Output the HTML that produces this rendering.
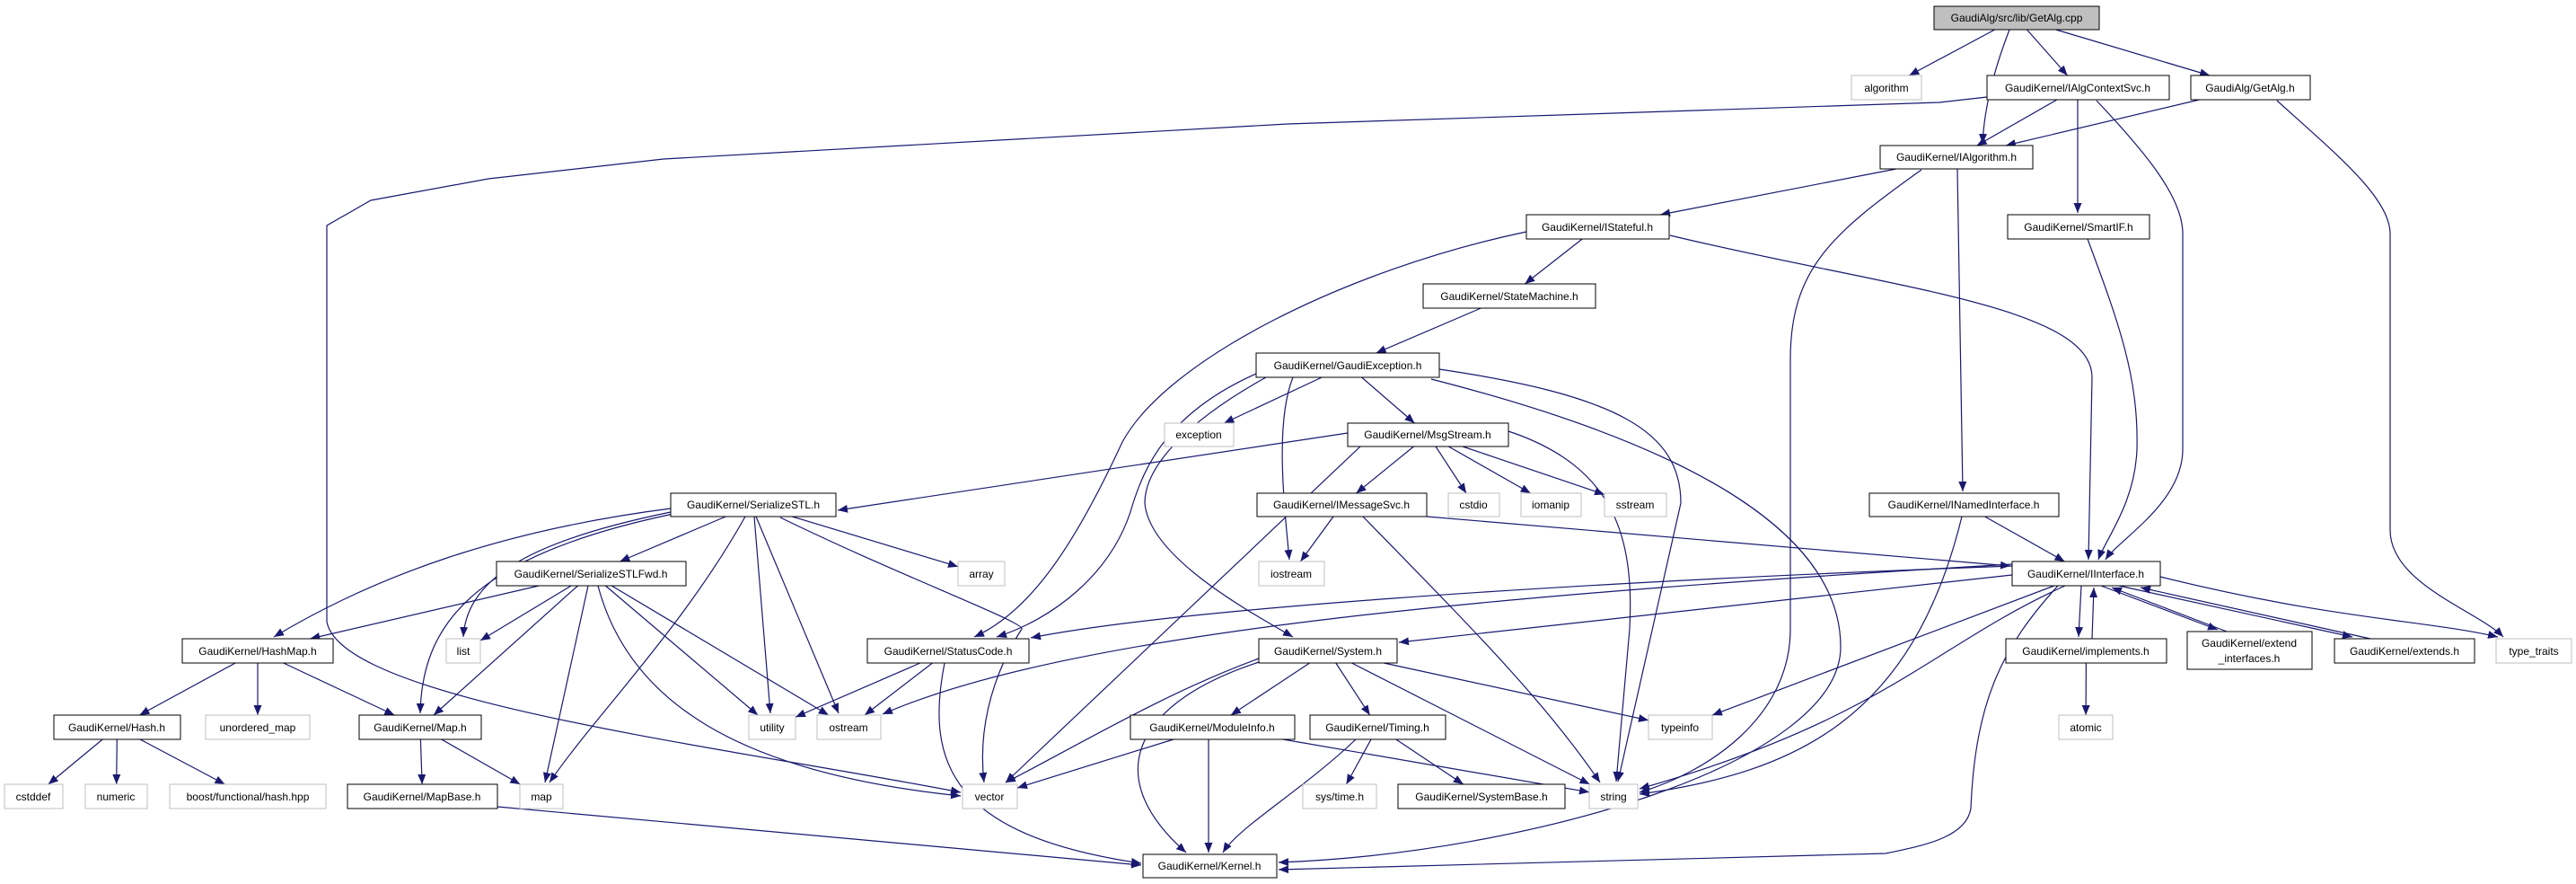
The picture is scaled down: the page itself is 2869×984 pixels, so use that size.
<!DOCTYPE html>
<html><head><meta charset="utf-8"><style>
html,body{margin:0;padding:0;background:#fff;}
svg{display:block;}
text{font-family:"Liberation Sans",Arial,sans-serif;font-size:12px;fill:#000;}
</style></head><body>
<svg id="g" xmlns="http://www.w3.org/2000/svg" width="2869" height="984" viewBox="0 0 2869 984">
<defs><marker id="a" markerUnits="userSpaceOnUse" markerWidth="12" markerHeight="10" refX="11" refY="4.5" orient="auto"><path d="M0,0 L11,4.5 L0,9 z" fill="#191970"/></marker></defs>
<g id="edges" fill="none" stroke="#191970" stroke-width="1.2"></g>
<g id="nodes">
<rect x="2154" y="7" width="184" height="26" fill="#bfbfbf" stroke="#000"/><text x="2246" y="24" text-anchor="middle">GaudiAlg/src/lib/GetAlg.cpp</text>
<rect x="2062" y="84" width="78" height="27" fill="#fff" stroke="#bfbfbf"/><text x="2101" y="102" text-anchor="middle">algorithm</text>
<rect x="2213" y="84" width="203" height="27" fill="#fff" stroke="#000"/><text x="2314" y="102" text-anchor="middle">GaudiKernel/IAlgContextSvc.h</text>
<rect x="2440" y="84" width="133" height="27" fill="#fff" stroke="#000"/><text x="2506" y="102" text-anchor="middle">GaudiAlg/GetAlg.h</text>
<rect x="2094" y="162" width="170" height="26" fill="#fff" stroke="#000"/><text x="2179" y="179" text-anchor="middle">GaudiKernel/IAlgorithm.h</text>
<rect x="1700" y="239" width="159" height="27" fill="#fff" stroke="#000"/><text x="1779" y="257" text-anchor="middle">GaudiKernel/IStateful.h</text>
<rect x="2236" y="239" width="158" height="27" fill="#fff" stroke="#000"/><text x="2315" y="257" text-anchor="middle">GaudiKernel/SmartIF.h</text>
<rect x="1585" y="316" width="192" height="27" fill="#fff" stroke="#000"/><text x="1681" y="334" text-anchor="middle">GaudiKernel/StateMachine.h</text>
<rect x="1399" y="393" width="204" height="27" fill="#fff" stroke="#000"/><text x="1501" y="411" text-anchor="middle">GaudiKernel/GaudiException.h</text>
<rect x="1297" y="471" width="77" height="26" fill="#fff" stroke="#bfbfbf"/><text x="1335" y="488" text-anchor="middle">exception</text>
<rect x="1501" y="471" width="179" height="26" fill="#fff" stroke="#000"/><text x="1590" y="488" text-anchor="middle">GaudiKernel/MsgStream.h</text>
<rect x="747" y="549" width="184" height="26" fill="#fff" stroke="#000"/><text x="839" y="566" text-anchor="middle">GaudiKernel/SerializeSTL.h</text>
<rect x="1400" y="549" width="189" height="26" fill="#fff" stroke="#000"/><text x="1494" y="566" text-anchor="middle">GaudiKernel/IMessageSvc.h</text>
<rect x="1613" y="549" width="57" height="26" fill="#fff" stroke="#bfbfbf"/><text x="1641" y="566" text-anchor="middle">cstdio</text>
<rect x="1694" y="549" width="67" height="26" fill="#fff" stroke="#bfbfbf"/><text x="1727" y="566" text-anchor="middle">iomanip</text>
<rect x="1787" y="549" width="69" height="26" fill="#fff" stroke="#bfbfbf"/><text x="1821" y="566" text-anchor="middle">sstream</text>
<rect x="2082" y="549" width="211" height="26" fill="#fff" stroke="#000"/><text x="2187" y="566" text-anchor="middle">GaudiKernel/INamedInterface.h</text>
<rect x="553" y="625" width="211" height="27" fill="#fff" stroke="#000"/><text x="658" y="643" text-anchor="middle">GaudiKernel/SerializeSTLFwd.h</text>
<rect x="1067" y="625" width="52" height="27" fill="#fff" stroke="#bfbfbf"/><text x="1093" y="643" text-anchor="middle">array</text>
<rect x="1402" y="625" width="73" height="27" fill="#fff" stroke="#bfbfbf"/><text x="1438" y="643" text-anchor="middle">iostream</text>
<rect x="2241" y="625" width="165" height="27" fill="#fff" stroke="#000"/><text x="2323" y="643" text-anchor="middle">GaudiKernel/IInterface.h</text>
<rect x="203" y="711" width="168" height="27" fill="#fff" stroke="#000"/><text x="287" y="729" text-anchor="middle">GaudiKernel/HashMap.h</text>
<rect x="497" y="711" width="38" height="27" fill="#fff" stroke="#bfbfbf"/><text x="516" y="729" text-anchor="middle">list</text>
<rect x="966" y="711" width="180" height="27" fill="#fff" stroke="#000"/><text x="1056" y="729" text-anchor="middle">GaudiKernel/StatusCode.h</text>
<rect x="1402" y="711" width="154" height="27" fill="#fff" stroke="#000"/><text x="1479" y="729" text-anchor="middle">GaudiKernel/System.h</text>
<rect x="2234" y="711" width="179" height="27" fill="#fff" stroke="#000"/><text x="2323" y="729" text-anchor="middle">GaudiKernel/implements.h</text>
<rect x="2436" y="703" width="139" height="42" fill="#fff" stroke="#000"/><text x="2505" y="720" text-anchor="middle">GaudiKernel/extend</text><text x="2505" y="737" text-anchor="middle">_interfaces.h</text>
<rect x="2600" y="711" width="156" height="27" fill="#fff" stroke="#000"/><text x="2678" y="729" text-anchor="middle">GaudiKernel/extends.h</text>
<rect x="2780" y="711" width="84" height="27" fill="#fff" stroke="#bfbfbf"/><text x="2822" y="729" text-anchor="middle">type_traits</text>
<rect x="60" y="796" width="141" height="27" fill="#fff" stroke="#000"/><text x="130" y="814" text-anchor="middle">GaudiKernel/Hash.h</text>
<rect x="229" y="796" width="116" height="27" fill="#fff" stroke="#bfbfbf"/><text x="287" y="814" text-anchor="middle">unordered_map</text>
<rect x="400" y="796" width="136" height="27" fill="#fff" stroke="#000"/><text x="468" y="814" text-anchor="middle">GaudiKernel/Map.h</text>
<rect x="834" y="796" width="52" height="27" fill="#fff" stroke="#bfbfbf"/><text x="860" y="814" text-anchor="middle">utility</text>
<rect x="910" y="796" width="71" height="27" fill="#fff" stroke="#bfbfbf"/><text x="945" y="814" text-anchor="middle">ostream</text>
<rect x="1259" y="796" width="183" height="27" fill="#fff" stroke="#000"/><text x="1350" y="814" text-anchor="middle">GaudiKernel/ModuleInfo.h</text>
<rect x="1459" y="796" width="151" height="27" fill="#fff" stroke="#000"/><text x="1534" y="814" text-anchor="middle">GaudiKernel/Timing.h</text>
<rect x="1836" y="796" width="71" height="27" fill="#fff" stroke="#bfbfbf"/><text x="1871" y="814" text-anchor="middle">typeinfo</text>
<rect x="2293" y="796" width="60" height="27" fill="#fff" stroke="#bfbfbf"/><text x="2323" y="814" text-anchor="middle">atomic</text>
<rect x="5" y="873" width="65" height="27" fill="#fff" stroke="#bfbfbf"/><text x="37" y="891" text-anchor="middle">cstddef</text>
<rect x="95" y="873" width="69" height="27" fill="#fff" stroke="#bfbfbf"/><text x="129" y="891" text-anchor="middle">numeric</text>
<rect x="189" y="873" width="174" height="27" fill="#fff" stroke="#bfbfbf"/><text x="276" y="891" text-anchor="middle">boost/functional/hash.hpp</text>
<rect x="387" y="873" width="167" height="27" fill="#fff" stroke="#000"/><text x="470" y="891" text-anchor="middle">GaudiKernel/MapBase.h</text>
<rect x="579" y="873" width="48" height="27" fill="#fff" stroke="#bfbfbf"/><text x="603" y="891" text-anchor="middle">map</text>
<rect x="1072" y="873" width="61" height="27" fill="#fff" stroke="#bfbfbf"/><text x="1102" y="891" text-anchor="middle">vector</text>
<rect x="1451" y="873" width="82" height="27" fill="#fff" stroke="#bfbfbf"/><text x="1492" y="891" text-anchor="middle">sys/time.h</text>
<rect x="1557" y="873" width="186" height="27" fill="#fff" stroke="#000"/><text x="1650" y="891" text-anchor="middle">GaudiKernel/SystemBase.h</text>
<rect x="1770" y="873" width="54" height="27" fill="#fff" stroke="#bfbfbf"/><text x="1797" y="891" text-anchor="middle">string</text>
<rect x="1273" y="951" width="149" height="26" fill="#fff" stroke="#000"/><text x="1347" y="968" text-anchor="middle">GaudiKernel/Kernel.h</text>
</g>
</svg>
<script>
var N={cpp:[2154,7,2338,33],algorithm:[2062,84,2140,111],ctx:[2213,84,2416,111],gah:[2440,84,2573,111],ialg:[2094,162,2264,188],ist:[1700,239,1859,266],sif:[2236,239,2394,266],sm:[1585,316,1777,343],gex:[1399,393,1603,420],exc:[1297,471,1374,497],msg:[1501,471,1680,497],ser:[747,549,931,575],imsg:[1400,549,1589,575],cstdio:[1613,549,1670,575],iomanip:[1694,549,1761,575],sstream:[1787,549,1856,575],inam:[2082,549,2293,575],serf:[553,625,764,652],array:[1067,625,1119,652],iostream:[1402,625,1475,652],iif:[2241,625,2406,652],hm:[203,711,371,738],list:[497,711,535,738],sc:[966,711,1146,738],sys:[1402,711,1556,738],impl:[2234,711,2413,738],ext:[2436,703,2575,745],exts:[2600,711,2756,738],tt:[2780,711,2864,738],hash:[60,796,201,823],umap:[229,796,345,823],maph:[400,796,536,823],utility:[834,796,886,823],ostream:[910,796,981,823],mod:[1259,796,1442,823],tim:[1459,796,1610,823],typeinfo:[1836,796,1907,823],atomic:[2293,796,2353,823],cstddef:[5,873,70,900],numeric:[95,873,164,900],boost:[189,873,363,900],mb:[387,873,554,900],map:[579,873,627,900],vector:[1072,873,1133,900],systime:[1451,873,1533,900],sb:[1557,873,1743,900],string:[1770,873,1824,900],kern:[1273,951,1422,977]};
var E=[
['cpp','algorithm'],['cpp','ctx'],['cpp','gah'],['cpp','ialg','M2238,33 C2220,80 2210,120 2208,160'],
['ctx','ialg'],['ctx','sif','M2314,111 L2314,237'],['gah','ialg'],
['ctx','iif','M2335,112 C2390,170 2431,220 2431,260 L2431,500 C2431,560 2360,600 2345,623'],
['ctx','vector','M2213,108 L2160,114 L1434,138 L739,177 L544,199 L413,223 L364,251 L364,692 C380,780 800,830 1070,882'],
['gah','tt','M2536,112 C2600,170 2662,220 2662,260 L2662,590 C2662,650 2760,680 2788,709'],
['ialg','ist'],['ialg','inam','M2180,188 L2186,547'],
['ialg','string','M2140,189 C2040,260 1994,300 1994,400 L1994,700 C1994,800 1900,860 1826,882'],
['sif','iif','M2325,266 C2360,360 2382,420 2380,500 C2378,560 2345,600 2337,623'],
['ist','sm'],['ist','iif','M1860,262 C2100,320 2330,340 2330,420 L2326,623'],
['ist','sc','M1700,258 C1500,300 1300,400 1250,492 C1200,600 1150,680 1085,709'],
['sm','gex'],
['gex','exc'],['gex','msg'],['gex','iostream','M1440,420 C1420,470 1430,560 1436,623'],
['gex','sc','M1399,416 C1300,460 1275,520 1262,560 C1240,640 1170,690 1110,709'],
['gex','sys','M1410,420 C1320,470 1275,520 1275,560 C1280,620 1390,680 1440,709'],
['gex','string','M1603,411 C1800,440 1872,480 1872,560 L1802,870'],
['gex','kern','M1594,422 C1900,500 2050,600 2050,720 C2050,850 1700,950 1424,960'],
['msg','ser','M1501,482 L933,568'],['msg','imsg'],['msg','cstdio'],['msg','iomanip'],['msg','sstream'],
['msg','string','M1680,480 C1800,520 1820,600 1815,700 L1800,870'],
['msg','vector','M1515,497 L1120,871'],
['imsg','iostream'],['imsg','iif','M1589,575 L2239,630'],['imsg','string','M1518,575 C1640,700 1720,780 1782,871'],
['inam','iif'],['inam','string','M2185,575 C2130,800 2000,860 1826,884'],
['ser','serf'],['ser','hm','M747,566 C560,590 420,640 305,709'],['ser','list','M747,570 C600,600 520,640 516,709'],
['ser','maph','M750,572 C520,620 470,700 468,794'],['ser','map','M830,575 C760,700 660,800 612,871'],
['ser','utility','M840,575 L858,794'],['ser','ostream','M842,575 L934,794'],['ser','array'],
['ser','vector','M869,576 C1000,640 1140,692 1138,700 C1100,760 1090,820 1096,871'],
['serf','hm'],['serf','list'],['serf','maph'],['serf','map','M655,652 L607,871'],['serf','utility'],['serf','ostream'],
['serf','vector','M666,652 C700,780 820,860 1070,886'],
['hm','hash'],['hm','umap'],['hm','maph'],['hash','cstddef'],['hash','numeric'],['hash','boost'],
['maph','mb'],['maph','map'],['mb','kern','M554,898 L1271,963'],
['sc','utility'],['sc','ostream'],['sc','kern','M1052,738 C1030,850 1060,930 1271,961'],
['sys','vector','M1402,733 C1300,770 1200,830 1120,871'],['sys','mod'],['sys','tim'],['sys','string'],['sys','typeinfo'],
['sys','kern','M1402,737 C1270,780 1220,860 1321,949'],
['mod','vector'],['mod','string'],['mod','kern','M1346,823 L1346,949'],
['tim','systime'],['tim','sb'],['tim','kern','M1510,823 C1450,880 1380,920 1362,949'],
['iif','sc','M2241,630 C1700,650 1300,680 1148,710'],['iif','sys','M2241,640 L1558,715'],['iif','ostream','M2241,628 C1700,660 1200,700 983,795'],
['iif','typeinfo'],['iif','impl','M2318,652 L2315,709'],['iif','ext','M2340,652 L2470,701'],['iif','exts','M2360,652 L2620,709'],
['iif','tt','M2406,642 C2600,690 2700,690 2782,709'],
['iif','kern','M2292,652 C2230,720 2200,780 2195,900 C2190,930 2150,940 2100,950 L1424,968'],
['iif','string','M2300,652 C2150,720 2100,800 1826,878'],
['impl','iif','M2330,711 L2332,654'],['impl','atomic'],['ext','iif','M2480,703 L2352,654'],['exts','iif','M2640,711 L2384,654']
];
function clip(r,px,py,qx,qy){var cx=(r[0]+r[2])/2,cy=(r[1]+r[3])/2,dx=qx-cx,dy=qy-cy,hw=(r[2]-r[0])/2,hh=(r[3]-r[1])/2;var t=Math.min(dx?hw/Math.abs(dx):1e9,dy?hh/Math.abs(dy):1e9);return [cx+dx*t,cy+dy*t];}
var g=document.getElementById('edges'),s='';
E.forEach(function(e){var d=e[2];if(!d){var a=N[e[0]],b=N[e[1]];var ac=[(a[0]+a[2])/2,(a[1]+a[3])/2],bc=[(b[0]+b[2])/2,(b[1]+b[3])/2];var p=clip(a,0,0,bc[0],bc[1]),q=clip(b,0,0,ac[0],ac[1]);d='M'+p[0].toFixed(1)+','+p[1].toFixed(1)+' L'+q[0].toFixed(1)+','+q[1].toFixed(1);}
s+='<path d="'+d+'" marker-end="url(#a)"/>';});
g.innerHTML=s;
</script>
</body></html>
